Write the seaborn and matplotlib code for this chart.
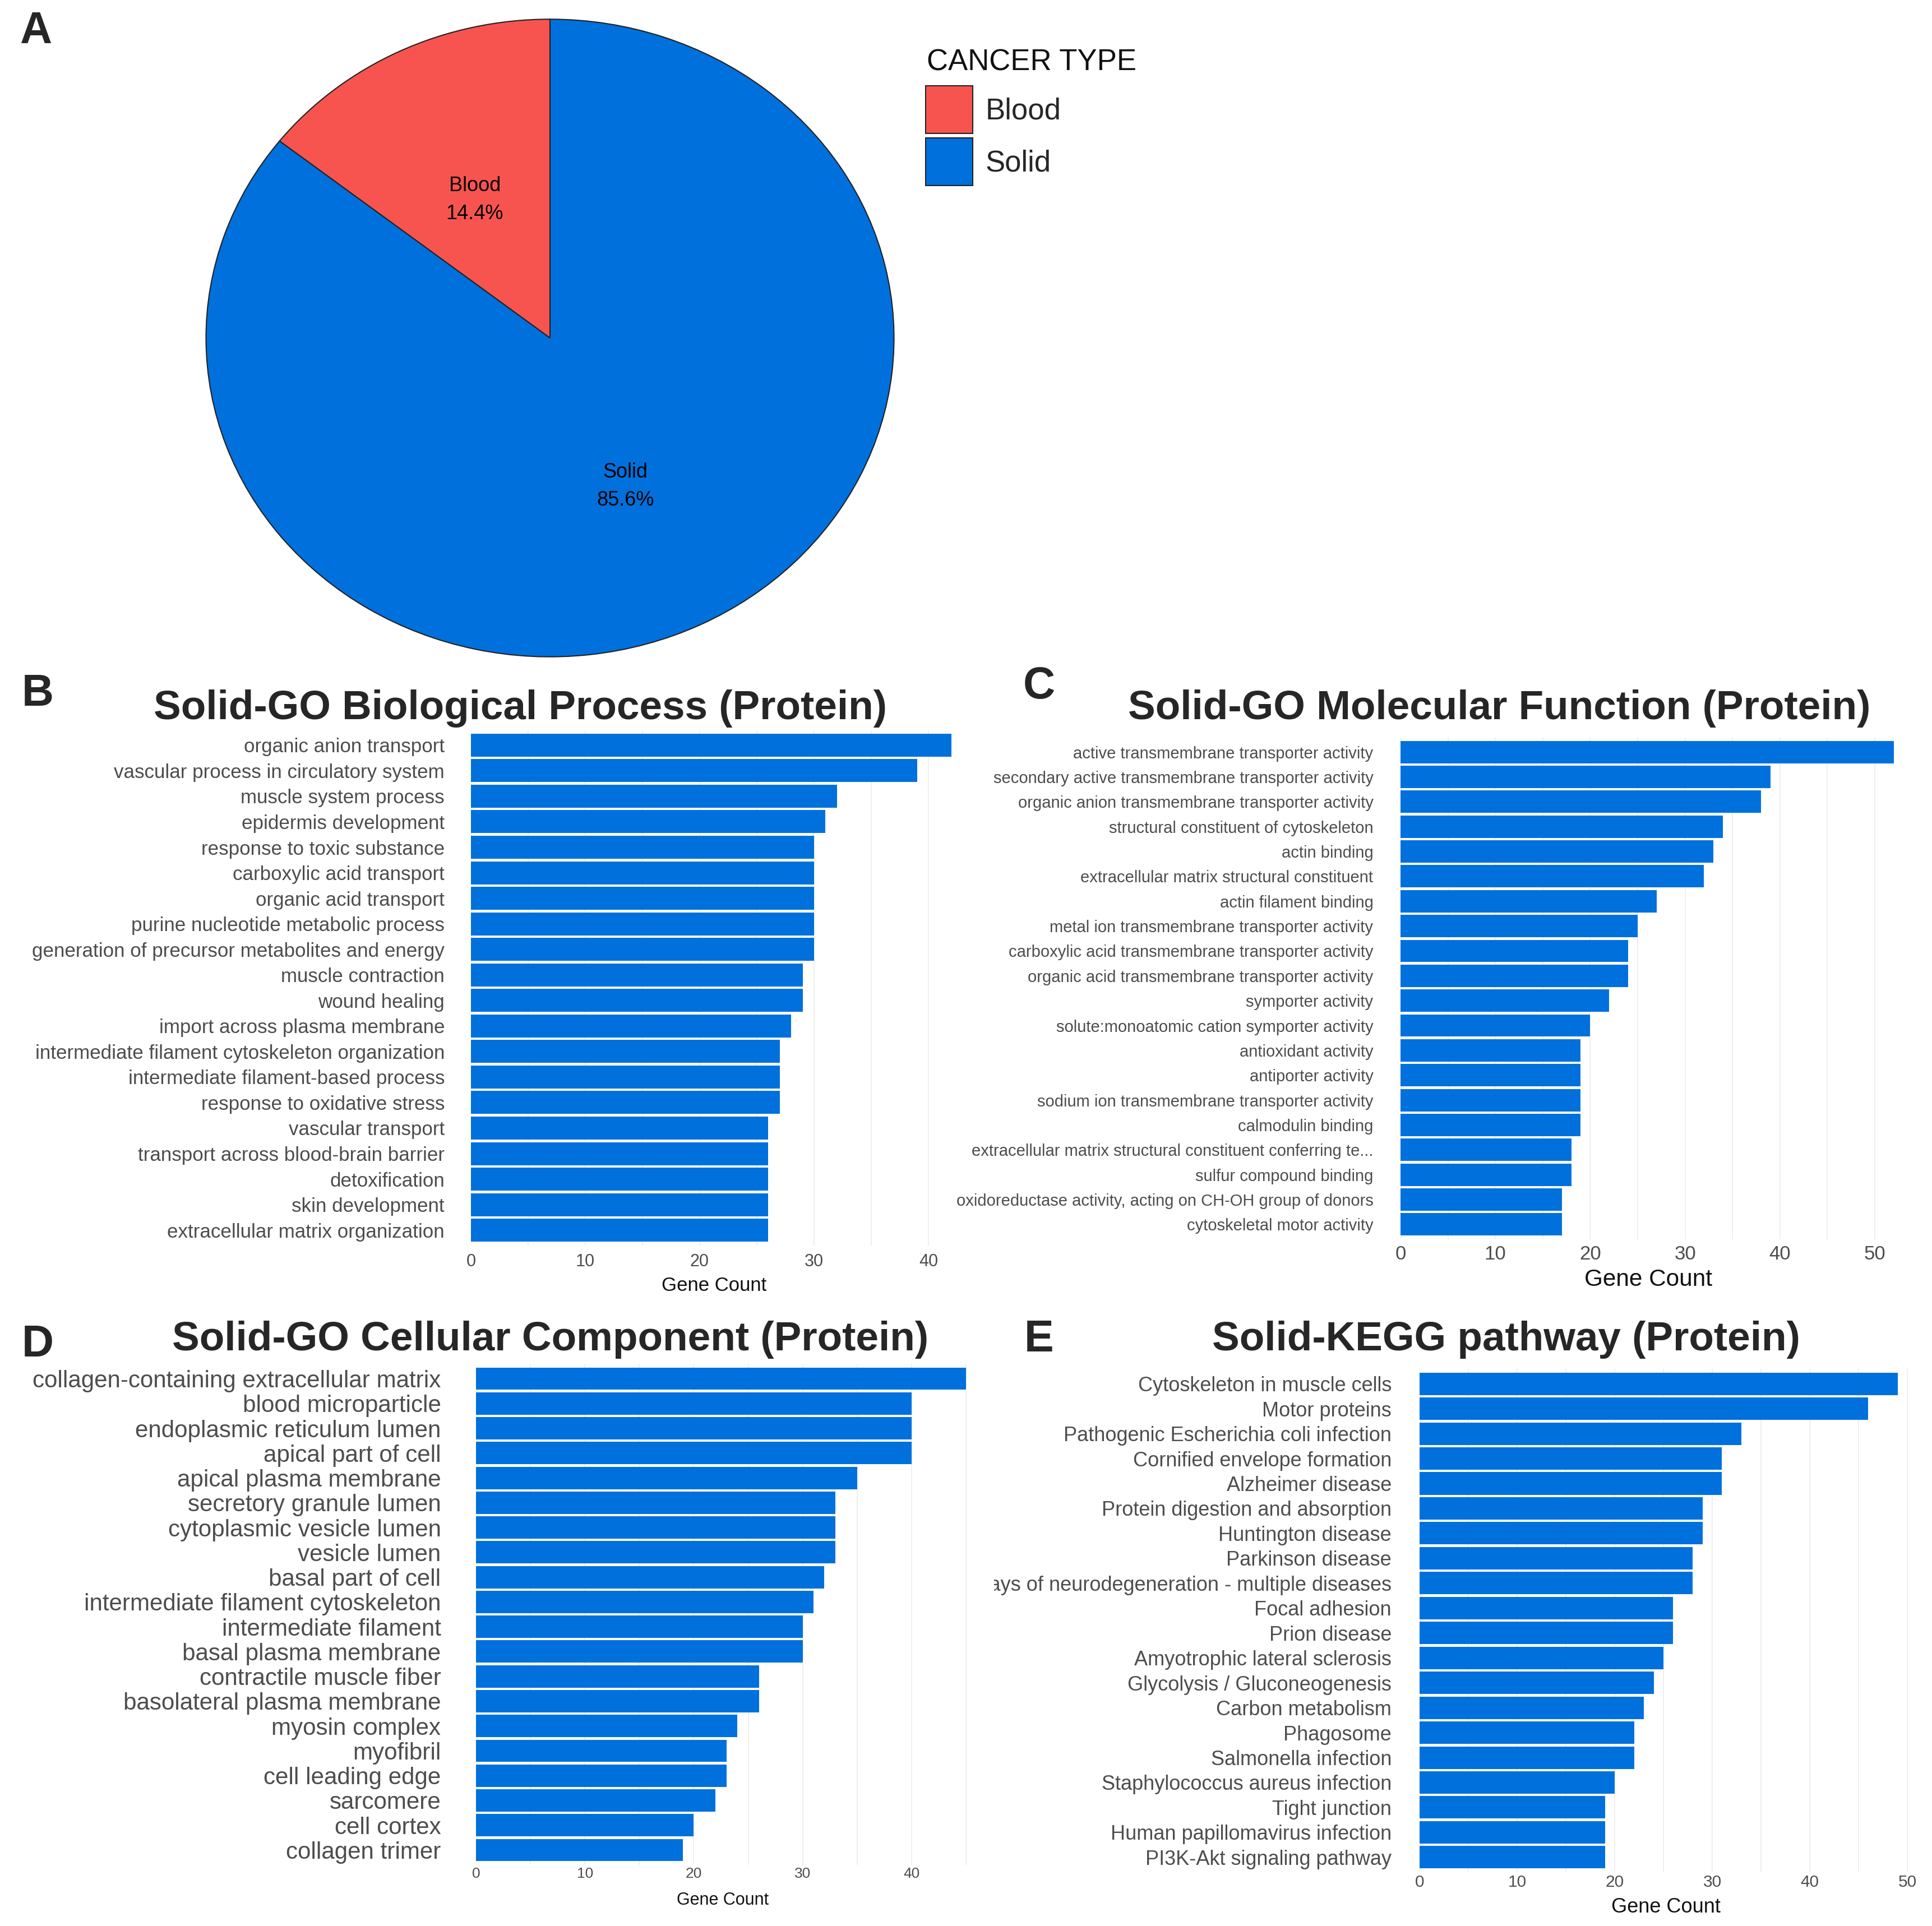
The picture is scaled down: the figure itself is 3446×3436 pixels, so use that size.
import numpy as np
import pandas as pd
import matplotlib
matplotlib.use("Agg")
import matplotlib.pyplot as plt
import seaborn as sns
from matplotlib.ticker import MultipleLocator
from matplotlib.transforms import Bbox, TransformedBbox

# datos
cancer_types = ["Blood", "Solid"]
cancer_pct = [14.4, 85.6]
cancer_colors = ["#F8544F", "#0070DD"]

bp_terms = ["organic anion transport", "vascular process in circulatory system",
            "muscle system process", "epidermis development", "response to toxic substance",
            "carboxylic acid transport", "organic acid transport",
            "purine nucleotide metabolic process", "generation of precursor metabolites and energy",
            "muscle contraction", "wound healing", "import across plasma membrane",
            "intermediate filament cytoskeleton organization", "intermediate filament-based process",
            "response to oxidative stress", "vascular transport",
            "transport across blood-brain barrier", "detoxification", "skin development",
            "extracellular matrix organization"]
bp_counts = [42, 39, 32, 31, 30, 30, 30, 30, 30, 29, 29, 28, 27, 27, 27, 26, 26, 26, 26, 26]

mf_terms = ["active transmembrane transporter activity",
            "secondary active transmembrane transporter activity",
            "organic anion transmembrane transporter activity",
            "structural constituent of cytoskeleton", "actin binding",
            "extracellular matrix structural constituent", "actin filament binding",
            "metal ion transmembrane transporter activity",
            "carboxylic acid transmembrane transporter activity",
            "organic acid transmembrane transporter activity", "symporter activity",
            "solute:monoatomic cation symporter activity", "antioxidant activity",
            "antiporter activity", "sodium ion transmembrane transporter activity",
            "calmodulin binding", "extracellular matrix structural constituent conferring te...",
            "sulfur compound binding", "oxidoreductase activity, acting on CH-OH group of donors",
            "cytoskeletal motor activity"]
mf_counts = [52, 39, 38, 34, 33, 32, 27, 25, 24, 24, 22, 20, 19, 19, 19, 19, 18, 18, 17, 17]

cc_terms = ["collagen-containing extracellular matrix", "blood microparticle",
            "endoplasmic reticulum lumen", "apical part of cell", "apical plasma membrane",
            "secretory granule lumen", "cytoplasmic vesicle lumen", "vesicle lumen",
            "basal part of cell", "intermediate filament cytoskeleton", "intermediate filament",
            "basal plasma membrane", "contractile muscle fiber", "basolateral plasma membrane",
            "myosin complex", "myofibril", "cell leading edge", "sarcomere", "cell cortex",
            "collagen trimer"]
cc_counts = [45, 40, 40, 40, 35, 33, 33, 33, 32, 31, 30, 30, 26, 26, 24, 23, 23, 22, 20, 19]

kegg_terms = ["Cytoskeleton in muscle cells", "Motor proteins",
              "Pathogenic Escherichia coli infection", "Cornified envelope formation",
              "Alzheimer disease", "Protein digestion and absorption", "Huntington disease",
              "Parkinson disease", "Pathways of neurodegeneration - multiple diseases",
              "Focal adhesion", "Prion disease", "Amyotrophic lateral sclerosis",
              "Glycolysis / Gluconeogenesis", "Carbon metabolism", "Phagosome",
              "Salmonella infection", "Staphylococcus aureus infection", "Tight junction",
              "Human papillomavirus infection", "PI3K-Akt signaling pathway"]
kegg_counts = [49, 46, 33, 31, 31, 29, 29, 28, 28, 26, 26, 25, 24, 23, 22, 22, 20, 19, 19, 19]

sns.set_theme(style="white")
plt.rcParams["font.family"] = ["Liberation Sans", "DejaVu Sans"]

W, H = 3446, 3436
fig = plt.figure(figsize=(W / 100, H / 100), dpi=100)
blue = "#0070DD"


def px_axes(left, top, right, bottom):
    return fig.add_axes([left / W, 1 - bottom / H, (right - left) / W, (bottom - top) / H])


def fig_text(x, y, s, **kw):
    return fig.text(x / W, 1 - y / H, s, **kw)


# A: pie
ax = px_axes(365, 32, 1597, 1174)
pie_labels = [f"{c}\n{p:.1f}%" for c, p in zip(cancer_types, cancer_pct)]
wedges, texts = ax.pie(cancer_pct, labels=pie_labels, colors=cancer_colors, startangle=90,
                       counterclock=True, labeldistance=0.5,
                       wedgeprops=dict(edgecolor="#222222", linewidth=1.5),
                       textprops=dict(fontsize=26, color="black", linespacing=1.55))
for t in texts:
    t.set_ha("center")
    t.set_va("center")
    x, y = t.get_position()
    t.set_position((x, y - 0.016))
ax.set_aspect("auto")
ax.set_xlim(-1.004, 1.004)
ax.set_ylim(-1.004, 1.004)

# leyenda
fig_text(1653, 125, "CANCER TYPE", ha="left", va="baseline", fontsize=38, color="#111111")
ax.legend(wedges, cancer_types, loc="upper left",
          bbox_to_anchor=(1651 / W, 1 - 153 / H), bbox_transform=fig.transFigure,
          frameon=False, fontsize=38, handlelength=1.6, handleheight=2.1,
          handletextpad=0.42, labelspacing=0.16, borderpad=0, borderaxespad=0)
fig_text(35, 77, "A", ha="left", va="baseline", fontsize=57, fontweight="bold")


def panel(terms, counts, left, ppu, top, bottom, xmax, ysize, ypad, xsize, xpad, labsize, labpad):
    ax = px_axes(left, top, left + xmax * ppu, bottom)
    df = pd.DataFrame({"term": terms, "count": counts})
    sns.barplot(data=df, x="count", y="term", color=blue, saturation=1, width=0.9,
                edgecolor="none", ax=ax)
    ax.set_xlim(0, xmax)
    ax.set_ylim(len(terms) - 0.4, -0.6)
    ax.set_xticks(np.arange(0, xmax + 0.01, 10))
    ax.xaxis.set_minor_locator(MultipleLocator(5))
    ax.grid(axis="x", which="both", color="#EEEEEE", linewidth=1.3)
    ax.grid(axis="y", visible=False)
    ax.set_axisbelow(True)
    sns.despine(ax=ax, left=True, bottom=True)
    ax.tick_params(which="both", length=0)
    ax.tick_params(axis="y", labelsize=ysize, pad=ypad, labelcolor="#4D4D4D")
    ax.tick_params(axis="x", labelsize=xsize, pad=xpad, labelcolor="#4D4D4D")
    ax.set_ylabel("")
    ax.set_xlabel("Gene Count", fontsize=labsize, labelpad=labpad, color="#111111")
    return ax


# B
panel(bp_terms, bp_counts, 840, 20.4, 1302, 2222, 42.5, 25.2, 33.8, 22, 10, 25, 8)
fig_text(928, 1283, "Solid-GO Biological Process (Protein)", ha="center", va="baseline",
         fontsize=52.5, fontweight="bold")
fig_text(39, 1259, "B", ha="left", va="baseline", fontsize=57, fontweight="bold")

# C
panel(mf_terms, mf_counts, 2498, 16.92, 1315, 2211, 52.3, 21, 35, 25, 7, 30.5, 7)
fig_text(2674, 1283, "Solid-GO Molecular Function (Protein)", ha="center", va="baseline",
         fontsize=52.5, fontweight="bold")
fig_text(1825, 1246, "C", ha="left", va="baseline", fontsize=57, fontweight="bold")

# D
panel(cc_terms, cc_counts, 849, 19.42, 2433, 3327, 45.3, 30.3, 45, 19, 3, 22, 14)
fig_text(982, 2409, "Solid-GO Cellular Component (Protein)", ha="center", va="baseline",
         fontsize=52.5, fontweight="bold")
fig_text(39, 2420, "D", ha="left", va="baseline", fontsize=57, fontweight="bold")

# E
axE = panel(kegg_terms, kegg_counts, 2532, 17.4, 2442, 3340, 50.5, 26, 36, 21.5, 3, 26, 9)
fig_text(2686, 2409, "Solid-KEGG pathway (Protein)", ha="center", va="baseline",
         fontsize=52.5, fontweight="bold")
fig_text(1827, 2411, "E", ha="left", va="baseline", fontsize=57, fontweight="bold")

# la etiqueta larga de E queda recortada como en la figura original
clip = TransformedBbox(Bbox([[1773 / W, 0], [1, 1]]), fig.transFigure)
for t in axE.get_yticklabels():
    t.set_clip_box(clip)
    t.set_clip_on(True)

fig.savefig("out.png", dpi=100, facecolor="white")
